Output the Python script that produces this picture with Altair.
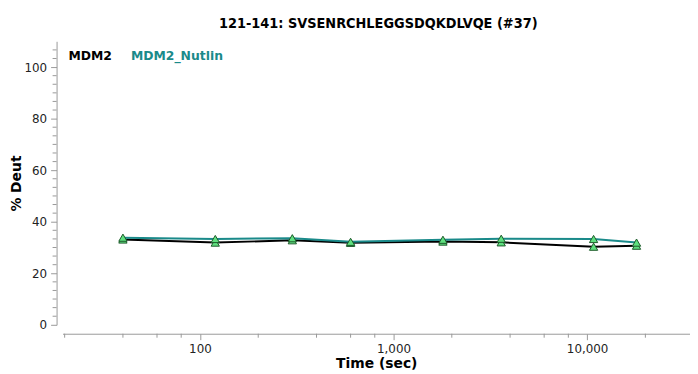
import altair as alt
import pandas as pd

times = [40, 120, 300, 600, 1800, 3600, 10800, 18000]
mdm2 = [33.1, 31.9, 32.8, 31.8, 32.3, 32.0, 30.3, 30.7]
mdm2_nutlin = [33.8, 33.3, 33.6, 32.2, 33.0, 33.4, 33.3, 31.9]
series_names = ["MDM2", "MDM2_Nutlin"]
series_colors = ["#000000", "#1a8a8a"]
title_text = "121-141: SVSENRCHLEGGSDQKDLVQE (#37)"

x_major = [100, 1000, 10000]
x_minor = [20, 40, 60, 80, 200, 400, 600, 800, 2000, 4000, 6000, 8000, 20000]
y_major = [0, 20, 40, 60, 80, 100]
y_minor = [3.33, 6.67, 10, 13.33, 16.67, 23.33, 26.67, 30, 33.33, 36.67,
           43.33, 46.67, 50, 53.33, 56.67, 63.33, 66.67, 70, 73.33, 76.67,
           83.33, 86.67, 90, 93.33, 96.67, 103.33, 106.67]

rows = []
for name, vals in zip(series_names, [mdm2, mdm2_nutlin]):
    for t, v in zip(times, vals):
        rows.append({"time": t, "deut": v, "series": name})
df = pd.DataFrame(rows)

FONT = "DejaVu Sans"
W, H = 633, 286
XOFF, YOFF = 9, 6
xscale = alt.Scale(type="log", domain=[19.5, 34000], nice=False)
yscale = alt.Scale(domain=[0, 110], nice=False)
cscale = alt.Scale(domain=series_names, range=series_colors)

x_axis = alt.Axis(values=x_major, format=",", title="Time (sec)", offset=XOFF,
                  tickSize=6, labelFont=FONT, labelFontSize=12, labelColor="#222",
                  titleFont=FONT, titleFontSize=14, titleFontWeight="bold",
                  titleColor="#000", domainColor="#999", tickColor="#999",
                  grid=False, labelPadding=4, titlePadding=2)
y_axis = alt.Axis(values=y_major, title="% Deut", offset=YOFF, tickSize=6,
                  labelFont=FONT, labelFontSize=12, labelColor="#222",
                  titleFont=FONT, titleFontSize=14, titleFontWeight="bold",
                  titleColor="#000", domainColor="#999", tickColor="#999",
                  grid=False, labelPadding=4, titlePadding=0)

lines = alt.Chart(df).mark_line(strokeWidth=2).encode(
    x=alt.X("time:Q", scale=xscale, axis=x_axis),
    y=alt.Y("deut:Q", scale=yscale, axis=y_axis),
    color=alt.Color("series:N", scale=cscale, legend=None),
    order=alt.Order("time:Q"),
)

points = alt.Chart(df).mark_point(shape="triangle-up", filled=True, size=70,
                                  fill="#5fe07f", stroke="#1d5a2a",
                                  strokeWidth=1, opacity=1).encode(
    x=alt.X("time:Q", scale=xscale),
    y=alt.Y("deut:Q", scale=yscale),
)

# minor ticks along the offset axis lines
minor_x = alt.Chart(pd.DataFrame({"time": x_minor})).mark_rule(
    color="#999", strokeWidth=1).encode(
    x=alt.X("time:Q", scale=xscale),
    y=alt.value(H + XOFF),
    y2=alt.value(H + XOFF + 4),
)
minor_y = alt.Chart(pd.DataFrame({"deut": y_minor})).mark_rule(
    color="#999", strokeWidth=1).encode(
    y=alt.Y("deut:Q", scale=yscale),
    x=alt.value(-YOFF),
    x2=alt.value(-YOFF - 4),
)

legend_df = pd.DataFrame({"series": series_names, "px": [6, 69]})
legend = alt.Chart(legend_df).mark_text(font=FONT, fontSize=12.5, fontWeight="bold",
                                        align="left", baseline="alphabetic").encode(
    x=alt.X("px:Q", scale=None),
    y=alt.value(19),
    text="series:N",
    color=alt.Color("series:N", scale=cscale, legend=None),
)

chart = alt.layer(minor_x, minor_y, lines, points, legend).properties(
    width=W, height=H,
    title=alt.TitleParams(title_text, font="DejaVu Sans Condensed", fontSize=14.5,
                          fontWeight="bold", color="#000", anchor="middle",
                          offset=10, dx=2),
    autosize=alt.AutoSizeParams(type="none"),
    padding={"left": 55, "top": 32, "right": 0, "bottom": 46},
).configure_view(stroke=None)

chart.save("out.html", embed_options={"renderer": "svg", "actions": False})
